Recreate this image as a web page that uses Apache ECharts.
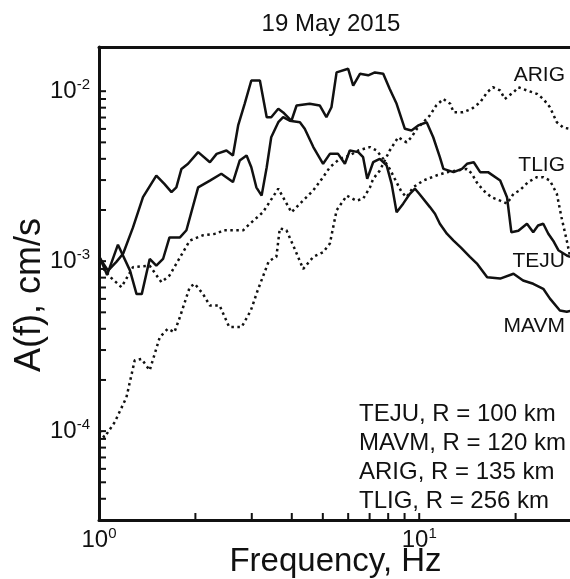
<!DOCTYPE html>
<html>
<head>
<meta charset="utf-8">
<script src="https://cdn.jsdelivr.net/npm/echarts@6/dist/echarts.min.js"></script>
<style>
  html, body { margin: 0; padding: 0; background: #fff; }
  #chart { width: 570px; height: 579px; }
</style>
</head>
<body>
<div id="chart"></div>
<script>
// spectra, [frequency Hz, A(f) cm/s]
const teju = [[1.0,1.06e-3],[1.067,8.8e-4],[1.133,9.9e-4],[1.19,1.11e-3],[1.277,1.58e-3],[1.372,2.38e-3],[1.51,3.19e-3],[1.6,2.85e-3],[1.684,2.55e-3],[1.744,2.72e-3],[1.809,3.49e-3],[1.897,3.74e-3],[2.04,4.38e-3],[2.22,3.82e-3],[2.33,4.28e-3],[2.5,4.48e-3],[2.62,4.19e-3],[2.72,6.29e-3],[2.85,8.43e-3],[2.99,1.156e-2],[3.18,1.156e-2],[3.34,7.03e-3],[3.45,7.03e-3],[3.63,7.88e-3],[3.76,7.5e-3],[3.99,6.7e-3],[4.14,8.24e-3],[4.55,8.43e-3],[4.89,8.24e-3],[5.13,7.03e-3],[5.32,8.05e-3],[5.52,1.29e-2],[6.0,1.355e-2],[6.22,1.08e-2],[6.53,1.265e-2],[6.93,1.24e-2],[7.27,1.29e-2],[7.72,1.265e-2],[8.09,1.03e-2],[8.5,8.43e-3],[9.02,6.01e-3],[9.46,5.87e-3],[9.93,6.29e-3],[10.55,6.57e-3],[11.06,5.36e-3],[11.6,4.09e-3],[11.9,3.49e-3],[12.8,3.34e-3],[13.6,3.49e-3],[14.1,3.74e-3],[14.8,3.82e-3],[15.5,3.34e-3],[16.4,3.34e-3],[17.9,2.98e-3],[18.8,2.38e-3],[19.4,1.48e-3],[20.4,1.51e-3],[21.7,1.66e-3],[22.7,1.48e-3],[23.5,1.62e-3],[24.4,1.66e-3],[25.3,1.45e-3],[26.2,1.32e-3],[27.2,1.16e-3],[28.9,1.08e-3],[29.6,1.06e-3]]
const mavm = [[1.0,1.08e-3],[1.06,8.3e-4],[1.146,1.25e-3],[1.25,8.8e-4],[1.31,6.4e-4],[1.36,6.4e-4],[1.44,1.03e-3],[1.51,9.4e-4],[1.585,1.03e-3],[1.66,1.38e-3],[1.79,1.38e-3],[1.875,1.52e-3],[2.04,2.72e-3],[2.22,2.98e-3],[2.41,3.27e-3],[2.62,2.92e-3],[2.75,3.91e-3],[2.89,4.19e-3],[2.99,3.57e-3],[3.1,2.72e-3],[3.22,2.43e-3],[3.34,3.57e-3],[3.45,5.36e-3],[3.63,6.57e-3],[3.76,7.03e-3],[3.94,6.7e-3],[4.24,6.57e-3],[4.39,6.01e-3],[4.67,4.69e-3],[5.01,3.74e-3],[5.26,4.28e-3],[5.58,4.28e-3],[5.86,3.74e-3],[6.07,4.48e-3],[6.45,4.38e-3],[6.68,4.09e-3],[6.88,3.05e-3],[7.18,3.82e-3],[7.53,4.0e-3],[7.91,3.66e-3],[8.2,2.85e-3],[8.5,1.94e-3],[8.91,2.18e-3],[9.35,2.49e-3],[9.7,2.67e-3],[10.0,2.49e-3],[10.8,2.08e-3],[11.2,1.9e-3],[11.6,1.66e-3],[12.2,1.45e-3],[12.8,1.32e-3],[13.5,1.2e-3],[14.4,1.06e-3],[15.2,9.6e-4],[16.3,8.05e-4],[17.9,7.9e-4],[19.7,8.43e-4],[21.1,7.7e-4],[22.7,7.36e-4],[24.4,6.88e-4],[25.6,6.02e-4],[27.5,5.13e-4],[28.9,5.04e-4],[29.6,5.1e-4]]
const arig = [[1.0,1.0e-4],[1.04,9.2e-5],[1.12,1.13e-4],[1.218,1.58e-4],[1.293,2.61e-4],[1.357,2.66e-4],[1.44,2.28e-4],[1.548,3.57e-4],[1.64,4.0e-4],[1.72,3.82e-4],[1.79,4.7e-4],[1.92,7.03e-4],[1.99,7.36e-4],[2.11,6.43e-4],[2.22,5.48e-4],[2.38,5.48e-4],[2.55,4.1e-4],[2.79,4.1e-4],[2.98,5.13e-4],[3.13,6.73e-4],[3.39,1.0e-3],[3.58,1.06e-3],[3.67,1.56e-3],[3.85,1.52e-3],[4.07,1.2e-3],[4.34,9.0e-4],[4.67,1.06e-3],[5.01,1.13e-3],[5.26,1.27e-3],[5.52,1.99e-3],[5.94,2.43e-3],[6.36,2.27e-3],[6.68,2.33e-3],[7.02,2.72e-3],[7.18,3.05e-3],[7.53,3.41e-3],[8.09,4.48e-3],[8.6,5.36e-3],[9.13,5.0e-3],[9.46,5.36e-3],[9.83,6.01e-3],[10.3,6.57e-3],[10.8,7.2e-3],[11.3,8.24e-3],[11.9,9.0e-3],[12.5,8.43e-3],[12.8,7.52e-3],[13.7,7.52e-3],[14.6,7.88e-3],[15.5,8.6e-3],[16.3,9.86e-3],[17.0,1.055e-2],[17.9,1.01e-2],[18.5,9.0e-3],[19.7,9.86e-3],[20.4,1.055e-2],[21.7,1.01e-2],[23.3,9.65e-3],[24.4,9.0e-3],[25.6,8.05e-3],[26.9,6.57e-3],[28.2,6.1e-3],[29.6,6.0e-3]]
const tlig = [[1.0,9.66e-4],[1.09,8.0e-4],[1.175,7.03e-4],[1.277,9.22e-4],[1.44,9.4e-4],[1.566,7.52e-4],[1.66,8.24e-4],[1.92,1.32e-3],[2.11,1.42e-3],[2.33,1.45e-3],[2.44,1.52e-3],[2.82,1.52e-3],[2.96,1.66e-3],[3.25,1.94e-3],[3.63,2.67e-3],[3.99,1.94e-3],[4.24,2.18e-3],[4.67,2.61e-3],[5.01,3.12e-3],[5.26,3.57e-3],[5.65,4.0e-3],[6.07,4.19e-3],[6.45,4.48e-3],[7.02,4.69e-3],[7.36,4.48e-3],[7.72,4.0e-3],[8.09,3.49e-3],[8.39,3.05e-3],[8.81,2.55e-3],[9.13,2.38e-3],[9.58,2.72e-3],[10.3,2.98e-3],[11.3,3.19e-3],[12.2,3.34e-3],[13.1,3.41e-3],[14.1,3.49e-3],[14.6,3.27e-3],[15.1,2.92e-3],[15.85,2.61e-3],[16.8,2.38e-3],[17.9,2.27e-3],[18.8,2.18e-3],[19.7,2.49e-3],[20.6,2.61e-3],[21.9,2.92e-3],[23.3,3.12e-3],[24.4,3.12e-3],[25.6,2.98e-3],[26.9,2.49e-3],[27.8,1.82e-3],[28.9,1.32e-3],[29.6,1.06e-3]]

const stations = ['TEJU', 'MAVM', 'ARIG', 'TLIG']
const distances = [100, 120, 135, 256]
const xMinorTicks = [2, 3, 4, 5, 6, 7, 8, 9, 10, 20, 30]
const yMinorTicks = [3e-5, 4e-5, 5e-5, 6e-5, 7e-5, 8e-5, 9e-5, 1e-4, 2e-4, 3e-4, 4e-4, 5e-4, 6e-4, 7e-4, 8e-4, 9e-4,
  1e-3, 2e-3, 3e-3, 4e-3, 5e-3, 6e-3, 7e-3, 8e-3, 9e-3, 1e-2]
const xRange = [1, 30]
const yRange = [3e-5, 0.0182]

const chart = echarts.init(document.getElementById('chart'))

function powLabel(v) {
  const e = Math.round(Math.log10(v))
  if (Math.abs(Math.log10(v) - e) > 1e-6) return ''
  return '{b|10}{s|' + e + '}'
}

const labelRich = {
  b: { fontSize: 24, fontFamily: 'Liberation Sans', color: '#111', lineHeight: 28 },
  s: { fontSize: 15, fontFamily: 'Liberation Sans', color: '#111', lineHeight: 15, verticalAlign: 'top' }
}

const tickData = xMinorTicks.map(v => [v, yRange[0], 0]).concat(yMinorTicks.map(v => [xRange[0], v, 1]))

const solid = { color: '#111', width: 2.5, type: 'solid' }
const dotted = { color: '#111', width: 2.5, type: [2.5, 3.5], cap: 'butt' }

chart.setOption({
  animation: false,
  backgroundColor: '#fff',
  grid: { left: 99, top: 47, width: 473, height: 473, containLabel: false, outerBoundsMode: 'none' },
  xAxis: [
    {
      type: 'log', logBase: 10, min: xRange[0], max: xRange[1],
      name: 'Frequency, Hz', nameLocation: 'middle', nameGap: 25, nameMoveOverlap: false,
      nameTextStyle: { fontSize: 33, fontFamily: 'Liberation Sans', color: '#111', verticalAlign: 'top' },
      axisLine: { lineStyle: { color: '#111', width: 3 } },
      axisTick: { show: false },
      splitLine: { show: false },
      axisLabel: { margin: 6, formatter: powLabel, rich: labelRich, showMinLabel: true, showMaxLabel: false }
    },
    {
      type: 'log', logBase: 10, min: xRange[0], max: xRange[1], position: 'top',
      axisLine: { lineStyle: { color: '#111', width: 3 } },
      axisTick: { show: false }, axisLabel: { show: false }, splitLine: { show: false }
    }
  ],
  yAxis: {
    type: 'log', logBase: 10, min: yRange[0], max: yRange[1],
    axisLine: { lineStyle: { color: '#111', width: 3 } },
    axisTick: { show: false },
    splitLine: { show: false },
    axisLabel: { margin: 9, formatter: powLabel, rich: labelRich, showMinLabel: false, showMaxLabel: false }
  },
  title: {
    text: '19 May 2015', left: 326, top: 7, textAlign: 'center',
    textStyle: { fontSize: 24, fontWeight: 'normal', fontFamily: 'Liberation Sans', color: '#111' }
  },
  series: [
    { name: 'TEJU', type: 'line', data: teju, showSymbol: false, lineStyle: solid, z: 3 },
    { name: 'MAVM', type: 'line', data: mavm, showSymbol: false, lineStyle: solid, z: 3 },
    { name: 'ARIG', type: 'line', data: arig, showSymbol: false, lineStyle: dotted, z: 2 },
    { name: 'TLIG', type: 'line', data: tlig, showSymbol: false, lineStyle: dotted, z: 2 },
    {
      // inward ticks on the log axes, minor and major alike
      type: 'custom', data: tickData, clip: false, silent: true, z: 5,
      renderItem: function(params, api) {
        const p = api.coord([api.value(0), api.value(1)])
        const vertical = api.value(2) === 0
        return {
          type: 'line',
          shape: vertical
            ? { x1: p[0], y1: p[1], x2: p[0], y2: p[1] - 7 }
            : { x1: p[0], y1: p[1], x2: p[0] + 7, y2: p[1] },
          style: { stroke: '#111', lineWidth: 2 }
        }
      }
    }
  ],
  graphic: [
    {
      type: 'text', x: 30, y: 295, rotation: Math.PI / 2,
      style: { text: 'A(f), cm/s', font: '36px "Liberation Sans"', fill: '#111', align: 'center', verticalAlign: 'middle' }
    },
    { type: 'text', right: 5, top: 65, style: { text: 'ARIG', font: '21px "Liberation Sans"', fill: '#111' } },
    { type: 'text', right: 5, top: 155, style: { text: 'TLIG', font: '21px "Liberation Sans"', fill: '#111' } },
    { type: 'text', right: 5, top: 251, style: { text: 'TEJU', font: '21px "Liberation Sans"', fill: '#111' } },
    { type: 'text', right: 5, top: 316, style: { text: 'MAVM', font: '21px "Liberation Sans"', fill: '#111' } },
    {
      type: 'text', left: 359, top: 400,
      style: {
        text: stations.map((s, i) => s + ', R = ' + distances[i] + ' km').join('\n'),
        font: '24px "Liberation Sans"', lineHeight: 29, fill: '#111'
      }
    }
  ]
})
</script>
</body>
</html>
